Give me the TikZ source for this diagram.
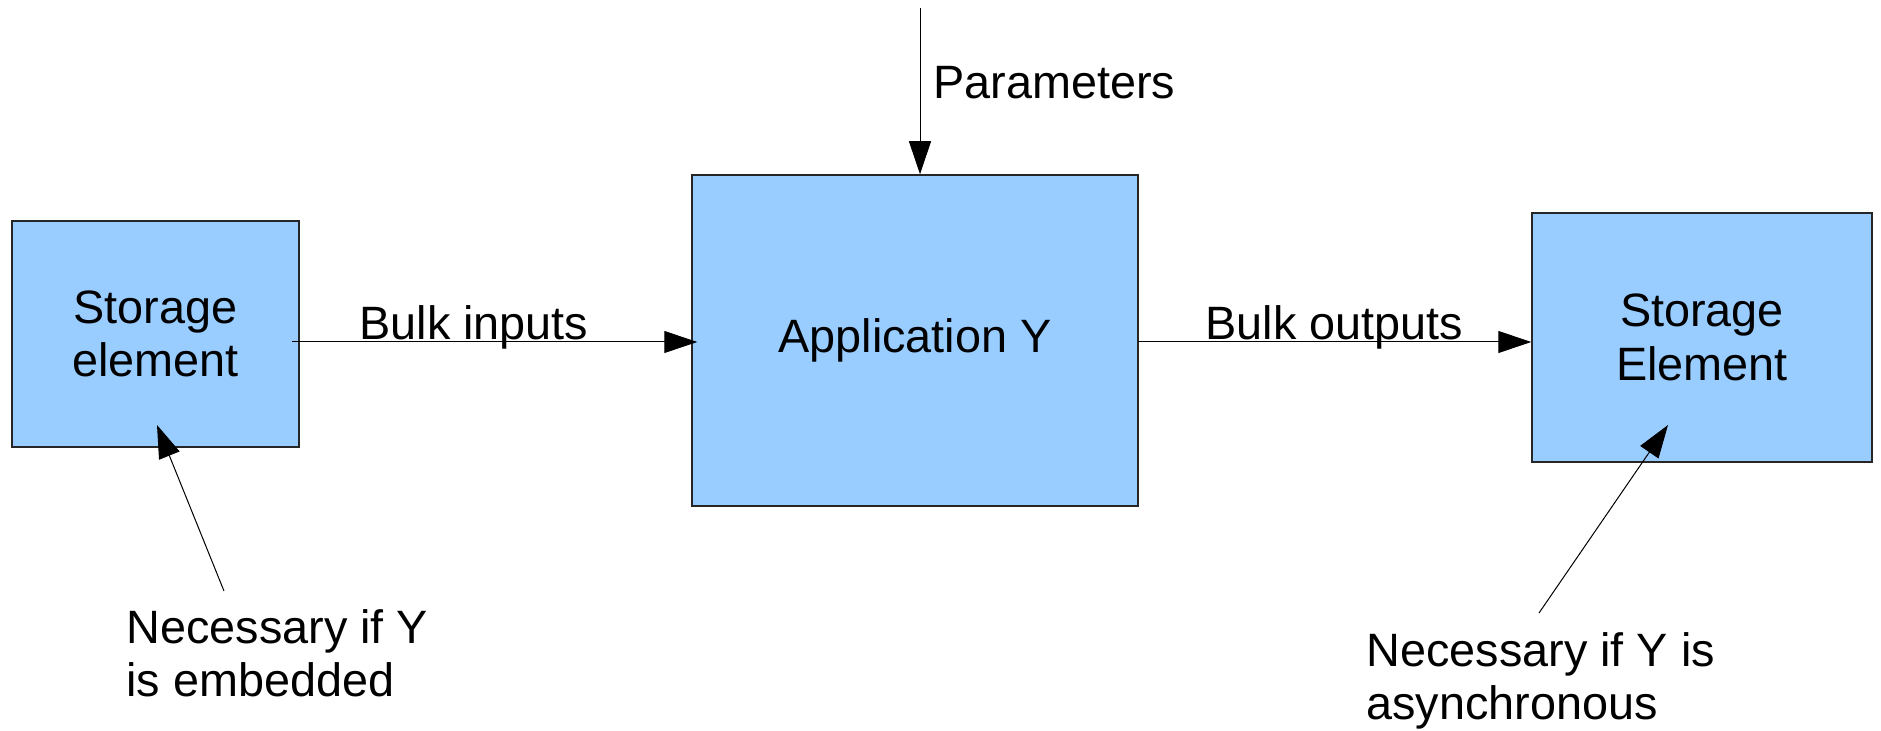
\documentclass[tikz,border=0pt]{standalone}
\usepackage{fontspec}
\setmainfont{Liberation Sans}
\usetikzlibrary{arrows.meta}
\definecolor{boxblue}{HTML}{99CCFF}
\tikzset{
  box/.style={draw=black!85, line width=0.75pt, fill=boxblue, inner sep=0pt,
    align=center, font=\fontsize{23.4}{26.8}\selectfont},
  lbl/.style={inner sep=0pt, font=\fontsize{23.4}{26.5}\selectfont},
  conn/.style={draw=black, line width=0.5pt, -{Triangle[length=16.5pt,width=11pt]}}
}
\begin{document}
\begin{tikzpicture}[x=0.5pt,y=-0.5pt]
\useasboundingbox (0,0) rectangle (1881,731);
\node[box, minimum width=143.5pt, minimum height=113pt] (left) at (155.5,334) {Storage\\element};
\node[box, minimum width=223pt, minimum height=165.5pt] (mid) at (915,340.5) {Application Y};
\node[box, minimum width=170pt, minimum height=124.5pt] (right) at (1702,337.5) {Storage\\Element};

\coordinate (bi) at (292,342);
\coordinate (bo) at (1138,342);
\coordinate (pt) at (920,8);
\coordinate (n1) at (224,591);
\coordinate (n1t) at (157,425);
\coordinate (n2) at (1539,613);
\coordinate (n2t) at (1668,425);

\draw[conn, shorten >=-3pt] (bi) -- (mid.west |- bi);
\draw[conn] (bo) -- (right.west |- bo);
\draw[conn] (pt) -- (pt |- mid.north);
\draw[conn] (n1) -- (n1t);
\draw[conn] (n2) -- (n2t);

\node[lbl, anchor=base west] (lbi) at (359,340) {Bulk inputs};
\node[lbl, anchor=base west] (lbo) at (1205,340) {Bulk outputs};
\node[lbl, anchor=base west] (lpar) at (933,99) {Parameters};
\node[lbl, anchor=base west, align=left] (t1) at (126,697) {Necessary if Y\\is embedded};
\node[lbl, anchor=base west, align=left] (t2) at (1366,720) {Necessary if Y is\\asynchronous};
\end{tikzpicture}
\end{document}
